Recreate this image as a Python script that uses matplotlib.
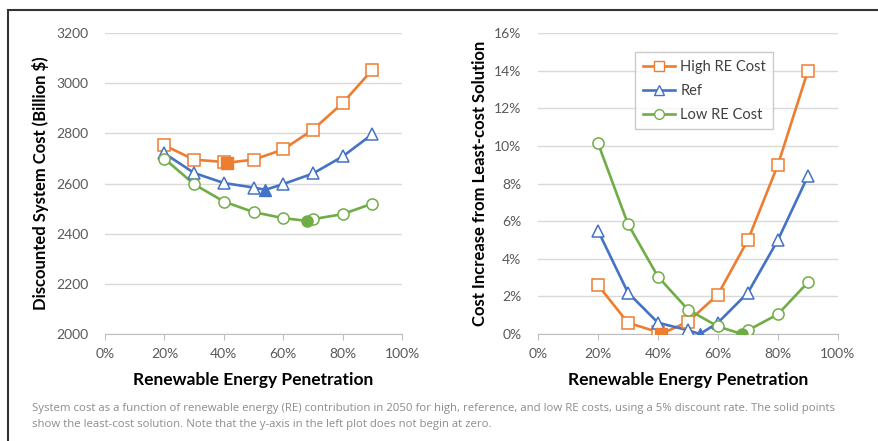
import matplotlib.pyplot as plt
from matplotlib.patches import Rectangle

plt.rcParams['font.family'] = ['Lato', 'DejaVu Sans']

# penetration levels (%), least-cost point included in each series
x_high = [20, 30, 40, 41, 50, 60, 70, 80, 90]
x_ref = [20, 30, 40, 50, 54, 60, 70, 80, 90]
x_low = [20, 30, 40, 50, 60, 68, 70, 80, 90]

# left plot: discounted system cost (billion $)
cost_high = [2752, 2695, 2686, 2683, 2695, 2736, 2815, 2921, 3054]
cost_ref = [2720, 2642, 2602, 2584, 2575, 2598, 2640, 2708, 2797]
cost_low = [2699, 2597, 2528, 2486, 2462, 2451, 2458, 2478, 2520]

# right plot: cost increase from least-cost solution (%)
inc_high = [2.6, 0.6, 0.1, 0.0, 0.65, 2.1, 5.0, 9.0, 14.0]
inc_ref = [5.5, 2.2, 0.6, 0.2, 0.0, 0.6, 2.2, 5.0, 8.4]
inc_low = [10.15, 5.85, 3.05, 1.3, 0.4, 0.0, 0.2, 1.05, 2.75]

# index of the least-cost (solid) point in each series
best_high, best_ref, best_low = 3, 4, 5

names = ['High RE Cost', 'Ref', 'Low RE Cost']
colors = ['#ED7D31', '#4472C4', '#70AD47']
markers = ['s', '^', 'o']

fig = plt.figure(figsize=(8.79, 4.41), dpi=100)
ax1 = fig.add_axes([0.1195, 0.2426, 0.338, 0.6825])
ax2 = fig.add_axes([0.612, 0.2426, 0.3413, 0.6825])

# frame around the whole figure
fig.patches.append(Rectangle((8 / 879, -0.05), 1.0, 1 - 10 / 441 + 0.05,
                             transform=fig.transFigure, fill=False,
                             edgecolor='#333333', linewidth=1.5))

series_x = [x_high, x_ref, x_low]
best = [best_high, best_ref, best_low]

for ax, ys in [(ax1, [cost_high, cost_ref, cost_low]),
               (ax2, [inc_high, inc_ref, inc_low])]:
    for xs, y, b, name, c, m in zip(series_x, ys, best, names, colors, markers):
        xo = [v for i, v in enumerate(xs) if i != b]
        yo = [v for i, v in enumerate(y) if i != b]
        ax.plot(xs, y, color=c, linewidth=1.9, zorder=2)
        ax.plot(xo, yo, linestyle='none', marker=m, markersize=8,
                markerfacecolor='white', markeredgecolor=c,
                markeredgewidth=1.1, zorder=3)
        ax.plot([xs[b]], [y[b]], linestyle='none', marker=m, markersize=8,
                color=c, zorder=4)
        # legend proxy
        ax.plot([], [], color=c, linewidth=1.9, marker=m, markersize=7,
                markerfacecolor='white', markeredgecolor=c, label=name)
    ax.set_xlim(0, 100)
    ax.set_xticks(range(0, 101, 20))
    ax.set_xticklabels([f'{v}%' for v in range(0, 101, 20)])
    ax.grid(axis='y', color='#d9d9d9', linewidth=1)
    ax.set_axisbelow(True)
    for s in ['top', 'right', 'left']:
        ax.spines[s].set_visible(False)
    ax.spines['bottom'].set_color('#bfbfbf')
    ax.tick_params(axis='y', length=0, labelsize=10, labelcolor='#595959', pad=12)
    ax.tick_params(axis='x', length=4, color='#bfbfbf', labelsize=10,
                   labelcolor='#595959', pad=6)
    ax.set_xlabel('Renewable Energy Penetration', fontsize=12.5,
                  fontweight='bold', labelpad=9)

ax1.set_ylim(2000, 3200)
ax1.set_yticks(range(2000, 3201, 200))
ax1.set_ylabel('Discounted System Cost (Billion $)', fontsize=12,
               fontweight='bold', labelpad=5)

ax2.set_ylim(0, 16)
ax2.set_yticks(range(0, 17, 2))
ax2.set_yticklabels([f'{v}%' for v in range(0, 17, 2)])
ax2.set_ylabel('Cost Increase from Least-cost Solution', fontsize=12,
               fontweight='bold', labelpad=4)

# legend only from proxies
handles, labels = ax2.get_legend_handles_labels()
leg = ax2.legend(handles[-3:], labels[-3:], loc='upper left',
                 bbox_to_anchor=(0.3, 0.96), fontsize=10.5, frameon=True,
                 fancybox=False, edgecolor='#bfbfbf', handlelength=2.2,
                 borderpad=0.5, labelspacing=0.7, handletextpad=0.4)
for t in leg.get_texts():
    t.set_color('#404040')

fig.text(32 / 879, 1 - 408 / 441,
         'System cost as a function of renewable energy (RE) contribution in 2050 for high, '
         'reference, and low RE costs, using a 5% discount rate. The solid points',
         fontsize=8.2, color='#8c8c8c', va='center', family='Open Sans')
fig.text(32 / 879, 1 - 424 / 441,
         'show the least-cost solution. Note that the y-axis in the left plot does not begin at zero.',
         fontsize=8.2, color='#8c8c8c', va='center', family='Open Sans')

fig.savefig('out.png', dpi=100)
